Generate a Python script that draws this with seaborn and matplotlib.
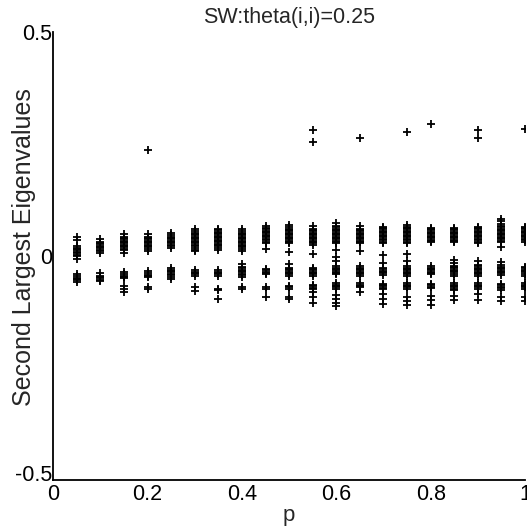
import matplotlib
matplotlib.use("Agg")
import matplotlib.pyplot as plt
import matplotlib.transforms as mtransforms
import numpy as np
import pandas as pd
import seaborn as sns

# p values on the x axis, one column of eigenvalues per p
p_values = [0.05, 0.10, 0.15, 0.20, 0.25, 0.30, 0.35, 0.40, 0.45, 0.50,
            0.55, 0.60, 0.65, 0.70, 0.75, 0.80, 0.85, 0.90, 0.95, 1.00]

eig_values = [
    [0.042, 0.036, 0.022, 0.019, 0.016, 0.013, 0.010, 0.007, 0.004, 0.001, -0.005,
     -0.040, -0.045, -0.048, -0.051, -0.054, -0.058],
    [0.038, 0.033, 0.030, 0.027, 0.024, 0.021, 0.018, 0.015, 0.012, 0.008,
     -0.038, -0.043, -0.046, -0.049, -0.052, -0.056],
    [0.050, 0.044, 0.041, 0.038, 0.035, 0.032, 0.029, 0.026, 0.023, 0.020, 0.017, 0.013, 0.008,
     -0.035, -0.040, -0.043, -0.046, -0.049, -0.066, -0.072, -0.080],
    [0.237, 0.050, 0.044, 0.041, 0.038, 0.035, 0.032, 0.029, 0.026, 0.023, 0.020, 0.017, 0.012,
     -0.033, -0.038, -0.041, -0.044, -0.047, -0.068, -0.073],
    [0.053, 0.047, 0.044, 0.041, 0.038, 0.035, 0.032, 0.029, 0.026, 0.022, 0.018,
     -0.026, -0.030, -0.033, -0.036, -0.039, -0.042, -0.046, -0.050],
    [0.060, 0.056, 0.053, 0.050, 0.047, 0.044, 0.041, 0.038, 0.035, 0.032, 0.029, 0.026, 0.023,
     0.019, 0.015, 0.011, -0.031, -0.034, -0.037, -0.040, -0.043, -0.068, -0.077],
    [0.062, 0.058, 0.055, 0.052, 0.049, 0.046, 0.043, 0.040, 0.037, 0.034, 0.031, 0.028, 0.025,
     0.022, 0.018, 0.013, -0.031, -0.034, -0.037, -0.040, -0.043, -0.072, -0.076, -0.095],
    [0.060, 0.056, 0.053, 0.050, 0.047, 0.044, 0.041, 0.038, 0.035, 0.032, 0.029, 0.026, 0.023,
     0.020, 0.016, 0.012, -0.018, -0.024, -0.027, -0.030, -0.033, -0.036, -0.039, -0.042, -0.046,
     -0.068, -0.072],
    [0.067, 0.063, 0.060, 0.057, 0.054, 0.051, 0.048, 0.045, 0.042, 0.039, 0.036, 0.033, 0.029,
     0.016, -0.028, -0.031, -0.034, -0.037, -0.040, -0.068, -0.074, -0.091],
    [0.070, 0.065, 0.062, 0.059, 0.056, 0.053, 0.050, 0.047, 0.044, 0.041, 0.038, 0.035, 0.032,
     0.029, 0.010, -0.018, -0.025, -0.028, -0.031, -0.034, -0.037, -0.040, -0.043, -0.066, -0.069,
     -0.072, -0.091, -0.096],
    [0.281, 0.255, 0.068, 0.062, 0.059, 0.056, 0.053, 0.050, 0.047, 0.044, 0.041, 0.038, 0.035,
     0.032, 0.029, 0.025, 0.006, -0.025, -0.028, -0.031, -0.034, -0.037, -0.040, -0.043, -0.064,
     -0.067, -0.070, -0.073, -0.080, -0.091, -0.104],
    [0.074, 0.068, 0.065, 0.062, 0.059, 0.056, 0.053, 0.050, 0.047, 0.044, 0.041, 0.038, 0.035,
     0.032, 0.029, 0.014, -0.001, -0.010, -0.022, -0.025, -0.028, -0.031, -0.034, -0.037, -0.040,
     -0.060, -0.063, -0.066, -0.069, -0.072, -0.086, -0.096, -0.104, -0.111],
    [0.265, 0.068, 0.062, 0.059, 0.056, 0.053, 0.050, 0.047, 0.044, 0.041, 0.038, 0.035, 0.032,
     0.029, 0.011, -0.022, -0.025, -0.028, -0.031, -0.034, -0.037, -0.040, -0.044, -0.060, -0.063,
     -0.066, -0.069, -0.080],
    [0.066, 0.063, 0.060, 0.057, 0.054, 0.051, 0.048, 0.045, 0.042, 0.039, 0.036, 0.033, 0.029,
     0.002, -0.015, -0.026, -0.029, -0.032, -0.035, -0.038, -0.041, -0.061, -0.064, -0.067, -0.070,
     -0.073, -0.085, -0.096, -0.107],
    [0.277, 0.070, 0.066, 0.063, 0.060, 0.057, 0.054, 0.051, 0.048, 0.045, 0.042, 0.039, 0.036,
     0.033, 0.029, 0.005, -0.010, -0.022, -0.025, -0.028, -0.031, -0.034, -0.037, -0.040, -0.043,
     -0.060, -0.063, -0.066, -0.069, -0.073, -0.090, -0.100, -0.108],
    [0.296, 0.064, 0.061, 0.058, 0.055, 0.052, 0.049, 0.046, 0.043, 0.040, 0.037, 0.034, 0.031,
     -0.022, -0.025, -0.028, -0.031, -0.034, -0.037, -0.040, -0.062, -0.065, -0.068, -0.071,
     -0.088, -0.098, -0.108],
    [0.064, 0.061, 0.058, 0.055, 0.052, 0.049, 0.046, 0.043, 0.040, 0.037, 0.034, 0.031, -0.008,
     -0.016, -0.021, -0.024, -0.027, -0.030, -0.033, -0.036, -0.039, -0.043, -0.060, -0.063,
     -0.066, -0.069, -0.072, -0.076, -0.088, -0.098],
    [0.281, 0.264, 0.066, 0.063, 0.060, 0.057, 0.054, 0.051, 0.048, 0.045, 0.042, 0.039, 0.036,
     0.033, 0.029, -0.010, -0.019, -0.022, -0.025, -0.028, -0.031, -0.034, -0.037, -0.040, -0.044,
     -0.060, -0.063, -0.066, -0.069, -0.072, -0.085, -0.098],
    [0.084, 0.078, 0.072, 0.068, 0.065, 0.062, 0.059, 0.056, 0.053, 0.050, 0.047, 0.044, 0.041,
     0.038, 0.035, 0.032, 0.020, -0.012, -0.020, -0.023, -0.026, -0.029, -0.032, -0.035, -0.038,
     -0.042, -0.062, -0.065, -0.068, -0.071, -0.075, -0.090, -0.100],
    [0.285, 0.066, 0.063, 0.060, 0.057, 0.054, 0.051, 0.048, 0.045, 0.042, 0.039, 0.036, 0.032,
     -0.024, -0.027, -0.030, -0.033, -0.036, -0.039, -0.043, -0.060, -0.063, -0.066, -0.069,
     -0.073, -0.090, -0.100],
]

x_ticks = [0, 0.2, 0.4, 0.6, 0.8, 1]
x_ticklabels = ["0", "0.2", "0.4", "0.6", "0.8", "1"]
y_ticks = [-0.5, 0, 0.5]
y_ticklabels = ["-0.5", "0", "0.5"]

data = pd.DataFrame({"p": p_values, "eig": eig_values}).explode("eig")
data["eig"] = data["eig"].astype(float)

sns.set_style("white")
plt.rcParams["font.family"] = ["Liberation Sans", "DejaVu Sans"]
plt.rcParams["axes.unicode_minus"] = False

fig = plt.figure(figsize=(5.27, 5.29), dpi=100)
ax = fig.add_axes([0.101, 0.092, 0.8952, 0.847])
sns.scatterplot(data=data, x="p", y="eig", marker="+", color="black",
                s=34, linewidth=1.3, ax=ax, legend=False)

ax.set_xlim(0, 1)
ax.set_ylim(-0.5, 0.5)
ax.set_xticks(x_ticks)
ax.set_xticklabels(x_ticklabels)
ax.set_yticks(y_ticks)
ax.set_yticklabels(y_ticklabels)
ax.tick_params(direction="in", length=5, width=1, labelsize=15.5, colors="black", pad=1)
ax.tick_params(axis="x", pad=3)
# lift the bottom y label a little, as in the scan
lbl = ax.get_yticklabels()[0]
lbl.set_transform(lbl.get_transform() + mtransforms.ScaledTranslation(0, 5 / 72, fig.dpi_scale_trans))
ax.set_title("SW:theta(i,i)=0.25", fontsize=15.5, pad=7)
ax.set_xlabel("p", fontsize=16, labelpad=0)
ax.set_ylabel("Second Largest Eigenvalues", fontsize=18)
ax.yaxis.set_label_coords(-0.036, 0.52)
sns.despine(ax=ax)
for side in ["left", "bottom"]:
    ax.spines[side].set_color("black")
    ax.spines[side].set_linewidth(1.3)

fig.savefig("out.png", dpi=100)
